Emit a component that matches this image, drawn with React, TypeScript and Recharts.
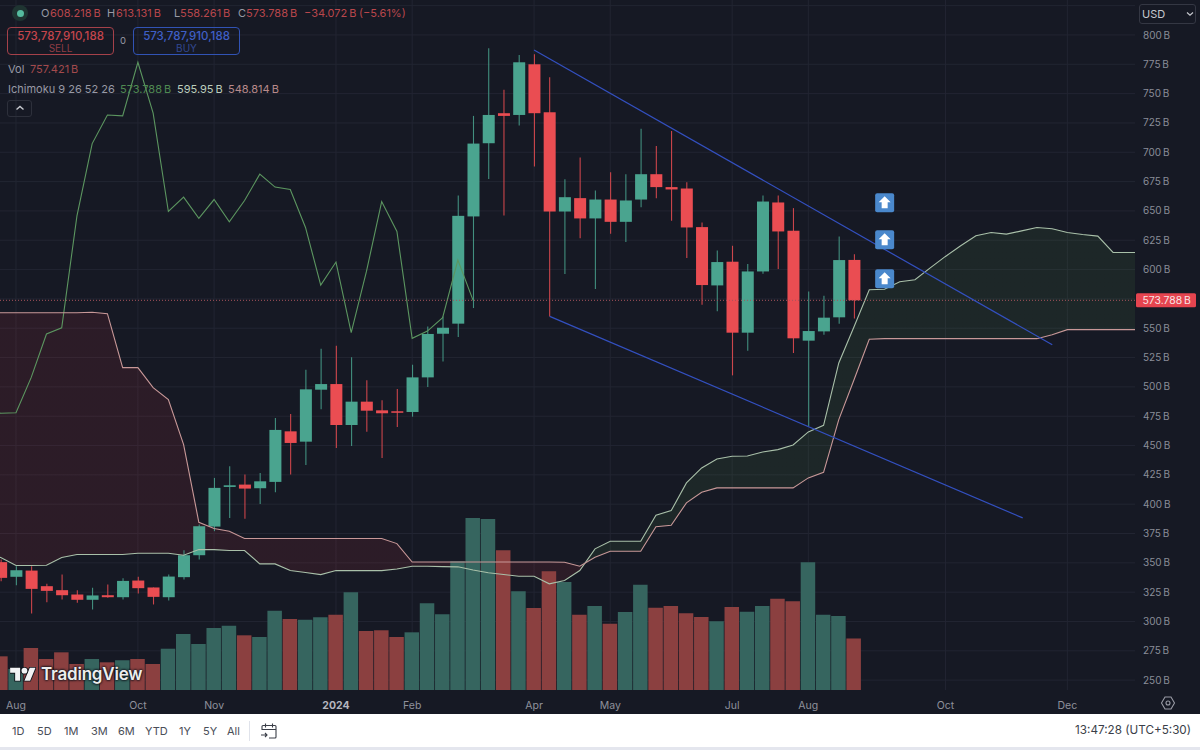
import {
  Area,
  Bar,
  CartesianGrid,
  Cell,
  ComposedChart,
  Line,
  ReferenceDot,
  ReferenceLine,
  XAxis,
  YAxis,
} from "recharts";

// weekly candles, values in billions of USD
const opens = [
  350.6, 338.1, 343.4, 330.1, 326.7, 323.0, 318.5, 322.4, 320.7, 334.9, 329.0, 320.7, 337.8, 356.5, 380.9, 414.7,
  416.7, 413.6, 419.0, 462.1, 453.3, 497.6, 502.4, 467.5, 487.4, 480.0, 479.2, 478.6, 508.1, 545.3, 553.9, 645.3,
  707.7, 733.3, 731.8, 775.0, 734.1, 649.5, 660.9, 643.6, 659.7, 640.7, 659.7, 681.3, 670.3, 669.1, 636.2, 586.5,
  606.7, 546.2, 598.4, 657.2, 633.1, 539.4, 547.3, 559.3, 608.218,
];
const highs = [
  352.8, 347.1, 347.1, 332.1, 340.1, 326.7, 328.7, 331.5, 336.9, 338.1, 329.0, 340.1, 360.8, 382.6, 422.4, 432.3,
  425.2, 426.6, 473.5, 476.9, 514.6, 532.5, 535.1, 525.2, 505.6, 488.5, 498.2, 518.9, 551.5, 560.0, 663.2, 731.0,
  788.6, 753.2, 783.0, 783.5, 763.9, 677.1, 695.5, 667.4, 683.0, 681.3, 720.0, 705.4, 718.2, 674.5, 640.2, 616.3,
  620.3, 604.7, 663.2, 663.2, 652.4, 581.4, 577.7, 628.2, 613.131,
];
const lows = [
  334.4, 331.0, 306.8, 316.5, 318.7, 315.9, 310.2, 320.2, 318.7, 323.9, 314.5, 317.9, 335.8, 352.8, 377.0, 388.3,
  387.5, 400.2, 410.2, 425.2, 433.5, 480.9, 447.9, 449.6, 461.8, 439.4, 465.8, 474.6, 499.9, 521.7, 542.5, 567.2,
  677.3, 646.1, 722.8, 687.8, 560.1, 596.2, 626.8, 583.4, 630.5, 623.4, 653.2, 660.9, 641.6, 609.8, 570.0, 564.4,
  509.8, 530.9, 596.4, 600.4, 528.9, 466.4, 544.5, 553.9, 558.261,
];
const closes = [
  337.2, 343.7, 327.8, 326.1, 322.4, 318.5, 322.2, 320.7, 334.6, 328.4, 321.0, 338.3, 356.5, 381.2, 413.9, 416.1,
  413.3, 419.5, 463.3, 452.2, 497.9, 502.4, 467.5, 487.4, 479.7, 477.5, 478.0, 508.1, 545.1, 550.4, 645.8, 707.4,
  731.8, 731.0, 776.7, 733.3, 649.5, 661.7, 643.6, 659.7, 640.7, 658.9, 681.3, 670.3, 668.3, 635.9, 586.8, 606.4,
  546.2, 598.4, 658.0, 632.5, 541.4, 547.6, 559.0, 608.1, 573.788,
];
const volumes = [
  495, 309, 617, 456, 554, 382, 456, 407, 437, 456, 382, 607, 823, 676, 911, 945, 804, 779, 1166, 1044, 1033, 1069,
  1107, 1436, 867, 878, 779, 848, 1274, 1113, 1892, 2528, 2514, 2054, 1451, 1205, 1745, 1588, 1107, 1235, 975, 1147,
  1548, 1210, 1235, 1127, 1073, 1010, 1220, 1151, 1235, 1342, 1304, 1877, 1107, 1088, 757.421,
];
// both cloud spans start one bar left of the first candle and run past the pane edge
const spanA = [
  357.1, 354.5, 347.7, 347.7, 348.0, 354.5, 357.1, 357.1, 357.1, 357.1, 358.2, 358.2, 358.2, 356.5, 361.3, 361.3,
  360.5, 360.5, 349.1, 349.1, 343.4, 341.7, 340.0, 343.4, 343.4, 343.4, 343.4, 344.7, 347.1, 347.1, 346.8, 346.6,
  343.9, 341.5, 340.0, 338.6, 338.6, 332.1, 334.9, 343.4, 361.9, 368.4, 368.4, 368.4, 390.5, 394.5, 418.1, 430.9,
  438.6, 440.8, 441.1, 444.5, 446.5, 450.5, 461.6, 467.2, 520.4, 551.3, 582.8, 583.2, 589.6, 591.3, 601.5, 611.2,
  620.3, 628.8, 631.6, 630.2, 633.0, 635.9, 634.8, 631.6, 629.9, 628.5, 614.6, 614.6, 614.6,
];
const spanB = [
  563.2, 563.2, 563.2, 563.2, 563.2, 563.2, 563.2, 563.6, 562.4, 516.4, 516.4, 499.3, 489.1, 450.8, 384.6, 379.2,
  376.9, 370.7, 370.7, 370.7, 370.7, 370.7, 370.7, 370.7, 370.7, 370.7, 370.7, 366.4, 350.7, 350.7, 350.7, 350.7,
  350.7, 350.7, 350.7, 350.7, 350.7, 350.7, 350.5, 347.1, 354.8, 359.9, 359.9, 359.9, 380.7, 382.0, 401.1, 410.1,
  413.9, 413.9, 413.9, 413.9, 413.9, 413.9, 422.4, 427.2, 472.1, 506.1, 540.6, 541.1, 541.1, 541.1, 541.1, 541.1,
  541.1, 541.1, 541.1, 541.1, 541.1, 541.1, 544.5, 548.8, 548.8, 548.8, 548.8, 548.8, 548.8,
];
const lagOffset = 25;
const timeTicks = [1, 9, 14, 22, 27, 35, 40, 48, 53, 62, 70];
const timeLabels = ["Aug", "Oct", "Nov", "2024", "Feb", "Apr", "May", "Jul", "Aug", "Oct", "Dec"];
// the 575 label is hidden by the last-price tag, its grid line stays
const priceTicks = [250, 275, 300, 325, 350, 375, 400, 425, 450, 475, 500, 525, 550, 600, 625, 650, 675, 700, 725, 750, 775, 800];
const gridPrices = [...priceTicks, 575, 825];
const lastPrice = 573.788;
const upperTrend = [
  { x: 35.0, y: 787.2 },
  { x: 69.01, y: 535.9 },
];
const lowerTrend = [
  { x: 36.03, y: 560.1 },
  { x: 67.07, y: 388.3 },
];
const buySignals = [
  { x: 58.01, y: 656.9 },
  { x: 58.01, y: 625.4 },
  { x: 58.01, y: 592.2 },
];
const rangeButtons = ["1D", "5D", "1M", "3M", "6M", "YTD", "1Y", "5Y", "All"];
const rangeLefts = [12, 37, 64, 91, 118, 145, 179, 203, 227];

const rows = spanA.map((a, i) => {
  const k = i - 1;
  const candle = k >= 0 && k < closes.length;
  const lagged = closes[k + lagOffset];
  return {
    k,
    spanA: a,
    spanB: spanB[i],
    lagging: lagged === undefined ? null : lagged,
    open: candle ? opens[k] : null,
    high: candle ? highs[k] : null,
    low: candle ? lows[k] : null,
    close: candle ? closes[k] : null,
    volume: candle ? volumes[k] : null,
  };
});

const UP = "#4aa48f";
const DOWN = "#ea4d52";
const FONT = "Inter, sans-serif";
const X_DOMAIN = [-0.05, 74.44];

function Candle(props: any) {
  const { x, y, width, height, payload } = props;
  if (payload.open == null || !height) return null;
  const { open, close, high, low } = payload;
  const perUnit = height / (high - low);
  const top = y + (high - Math.max(open, close)) * perUnit;
  const bottom = y + (high - Math.min(open, close)) * perUnit;
  const color = close >= open ? UP : DOWN;
  return (
    <g>
      <line x1={x + width / 2} x2={x + width / 2} y1={y} y2={y + height} stroke={color} strokeWidth={1.1} opacity={0.85} />
      <rect x={x} y={top} width={width} height={Math.max(bottom - top, 1.5)} fill={color} />
    </g>
  );
}

function TimeTick({ x, y, payload }: any) {
  const label = timeLabels[timeTicks.indexOf(payload.value)];
  const bold = label === "2024";
  return (
    <text x={x} y={y} dy={10.5} textAnchor="middle" fontFamily={FONT} fontSize={10.5} fontWeight={bold ? 700 : 400} fill={bold ? "#b4b6bf" : "#8f919c"}>
      {label}
    </text>
  );
}

function SignalArrow({ cx, cy }: any) {
  return (
    <g transform={`translate(${cx},${cy})`}>
      <rect x={-9.5} y={-9.5} width={19} height={19} rx={2} fill="#4a88cc" />
      <path d="M0 -6.5 L6 -0.5 L3 -0.5 L3 5.5 L-3 5.5 L-3 -0.5 L-6 -0.5 Z" fill="#fff" />
    </g>
  );
}

function PriceTag({ viewBox }: any) {
  return (
    <g>
      <rect x={1136} y={viewBox.y - 7} width={60} height={14} rx={1.5} fill="#e5444f" />
      <text x={1142.5} y={viewBox.y + 3.8} fontFamily={FONT} fontSize={10.4} fill="#f8e4e6">
        {"573.788\u2009B"}
      </text>
    </g>
  );
}

function Txt({ x, y, color, size = 11, children, weight }: any) {
  return (
    <div style={{ position: "absolute", left: x, top: y, color, fontSize: size, fontWeight: weight, lineHeight: "14px", whiteSpace: "nowrap" }}>
      {children}
    </div>
  );
}

function Legend() {
  const red = "#b9474c";
  const grey = "#989aa5";
  return (
    <>
      <div style={{ position: "absolute", left: 12, top: 5, width: 16, height: 16, borderRadius: 8, background: "#1f3532" }} />
      <div style={{ position: "absolute", left: 16.5, top: 9.5, width: 7, height: 7, borderRadius: 4, background: "#55bc9f" }} />
      <Txt x={41} y={6} color={grey}>O</Txt>
      <Txt x={50} y={6} color={red}>{"608.218\u2009B"}</Txt>
      <Txt x={107} y={6} color={grey}>H</Txt>
      <Txt x={116} y={6} color={red}>{"613.131\u2009B"}</Txt>
      <Txt x={174} y={6} color={grey}>L</Txt>
      <Txt x={180} y={6} color={red}>{"558.261\u2009B"}</Txt>
      <Txt x={238} y={6} color={grey}>C</Txt>
      <Txt x={246} y={6} color={red}>{"573.788\u2009B"}</Txt>
      <Txt x={304} y={6} color={red}>{"\u221234.072\u2009B"}</Txt>
      <Txt x={359} y={6} color={red}>(−5.61%)</Txt>

      <div style={{ position: "absolute", left: 7, top: 27, width: 107, height: 28, boxSizing: "border-box", border: "1px solid #a5414a", borderRadius: 4, textAlign: "center" }}>
        <div style={{ color: "#c5454c", fontSize: 11.5, lineHeight: "13px", marginTop: 2, fontWeight: 500 }}>573,787,910,188</div>
        <div style={{ color: "#8f3d44", fontSize: 10, lineHeight: "10px" }}>SELL</div>
      </div>
      <Txt x={120} y={34} color="#989aa5" size={9.5}>0</Txt>
      <div style={{ position: "absolute", left: 133, top: 27, width: 107, height: 28, boxSizing: "border-box", border: "1px solid #3153b5", borderRadius: 4, textAlign: "center" }}>
        <div style={{ color: "#3f5fc6", fontSize: 11.5, lineHeight: "13px", marginTop: 2, fontWeight: 500 }}>573,787,910,188</div>
        <div style={{ color: "#32488f", fontSize: 10, lineHeight: "10px" }}>BUY</div>
      </div>

      <Txt x={8} y={62} color={grey}>Vol</Txt>
      <Txt x={30} y={62} color="#a34a4d">{"757.421\u2009B"}</Txt>
      <Txt x={8} y={82} color={grey}>Ichimoku 9 26 52 26</Txt>
      <Txt x={120} y={82} color="#4f8a52">{"573.788\u2009B"}</Txt>
      <Txt x={177} y={82} color="#bccdbc">{"595.95\u2009B"}</Txt>
      <Txt x={228} y={82} color="#b88a8a">{"548.814\u2009B"}</Txt>
      <div style={{ position: "absolute", left: 7, top: 100, width: 25, height: 17, boxSizing: "border-box", border: "1px solid #2d303b", borderRadius: 3 }} />
      <svg style={{ position: "absolute", left: 15, top: 104 }} width={10} height={8}>
        <path d="M1.5 5.5 L5 2.5 L8.5 5.5" fill="none" stroke="#c8cad0" strokeWidth={1.4} />
      </svg>

      <div style={{ position: "absolute", left: 1139, top: 4, width: 57, height: 20, boxSizing: "border-box", border: "1px solid #343743", borderRadius: 3, background: "#161924" }} />
      <Txt x={1142} y={7} color="#c6c8ce">USD</Txt>
      <svg style={{ position: "absolute", left: 1186, top: 11 }} width={8} height={6}>
        <path d="M1 1.5 L4 4.2 L7 1.5" fill="none" stroke="#c6c8ce" strokeWidth={1.2} />
      </svg>
    </>
  );
}

function Watermark() {
  return (
    <>
      <svg style={{ position: "absolute", left: 10, top: 665 }} width={26} height={20} viewBox="0 0 36 28">
        <g stroke="#11141c" strokeWidth={2.5} paintOrder="stroke" fill="#f2f3f5">
          <path d="M14 22H7V11H0V4h14v18z" />
          <path d="M28 22h-8l7.5-18h8L28 22z" />
          <circle cx={20} cy={8} r={4} />
        </g>
      </svg>
      <div style={{ position: "absolute", left: 41, top: 663, color: "#eceded", fontSize: 17, fontWeight: 600, lineHeight: "22px", letterSpacing: -0.2, textShadow: "0 0 2px #11141c, 0 0 2px #11141c, 0 0 3px #11141c" }}>
        TradingView
      </div>
    </>
  );
}

function Toolbar() {
  return (
    <>
      <div style={{ position: "absolute", left: 0, top: 714, width: 1200, height: 33, background: "#fff" }} />
      <div style={{ position: "absolute", left: 0, top: 747, width: 1200, height: 3, background: "#e4e6ee" }} />
      {rangeButtons.map((b, i) => (
        <Txt key={b} x={rangeLefts[i]} y={724} color="#4a4e58">{b}</Txt>
      ))}
      <div style={{ position: "absolute", left: 249, top: 721, width: 1, height: 20, background: "#e0e3eb" }} />
      <svg style={{ position: "absolute", left: 260, top: 722 }} width={18} height={18} fill="none" stroke="#3a3e48" strokeWidth={1.1}>
        <path d="M2 8V4.5a1 1 0 0 1 1-1h12a1 1 0 0 1 1 1V15a1 1 0 0 1-1 1H9" />
        <path d="M2 7.5h14M5.5 1.5v4M12.5 1.5v4M1 13h6M5 11l2 2-2 2" />
      </svg>
      <div style={{ position: "absolute", right: 9, top: 723, color: "#3a3e48", fontSize: 11.7, lineHeight: "14px" }}>13:47:28 (UTC+5:30)</div>
    </>
  );
}

export default function App() {
  return (
    <div style={{ position: "relative", width: 1200, height: 750, background: "#161924", fontFamily: FONT, overflow: "hidden" }}>
      <style>{"html,body{margin:0;padding:0}"}</style>
      <ComposedChart width={1200} height={750} data={rows} margin={{ top: 0, right: 0, bottom: 0, left: 0 }}>
        <defs>
          <linearGradient id="cloudFill" x1="0" y1="0" x2="1" y2="0">
            <stop offset="51.76%" stopColor="rgb(242,54,69)" stopOpacity={0.1} />
            <stop offset="51.76%" stopColor="rgb(100,180,80)" stopOpacity={0.09} />
          </linearGradient>
        </defs>
        <CartesianGrid
          xAxisId="time"
          yAxisId="price"
          stroke="#222532"
          strokeWidth={1}
          verticalValues={timeTicks}
          horizontalValues={gridPrices}
        />
        <XAxis
          xAxisId="time"
          dataKey="k"
          type="number"
          domain={X_DOMAIN}
          allowDataOverflow
          ticks={timeTicks}
          interval={0}
          tick={<TimeTick />}
          axisLine={false}
          tickLine={false}
          height={60}
        />
        <XAxis xAxisId="vol" dataKey="k" type="number" domain={X_DOMAIN} allowDataOverflow hide />
        <YAxis
          yAxisId="price"
          orientation="right"
          type="number"
          domain={[241.6, 829.8]}
          allowDataOverflow
          ticks={priceTicks}
          interval={0}
          width={65}
          tickFormatter={(v) => `${v}\u2009B`}
          tick={{ fill: "#8a8d98", fontSize: 10, fontFamily: FONT }}
          tickMargin={2}
          axisLine={false}
          tickLine={false}
        />
        <YAxis yAxisId="volume" type="number" domain={[0, 10143]} hide />

        <Bar xAxisId="vol" yAxisId="volume" dataKey="volume" barSize={14.5} isAnimationActive={false}>
          {rows.map((r) => (
            <Cell key={r.k} fill={r.close != null && r.close < (r.open as number) ? "#8b4040" : "#36655f"} />
          ))}
        </Bar>
        <Area
          xAxisId="time"
          yAxisId="price"
          dataKey={(d: any) => [d.spanB, d.spanA]}
          stroke="none"
          fill="url(#cloudFill)"
          fillOpacity={1}
          dot={false}
          activeDot={false}
          isAnimationActive={false}
        />
        <Line xAxisId="time" yAxisId="price" dataKey="lagging" stroke="#5c9660" strokeWidth={1.1} dot={false} activeDot={false} isAnimationActive={false} />
        <Line xAxisId="time" yAxisId="price" dataKey="spanA" stroke="#a9c0a9" strokeWidth={1.1} dot={false} activeDot={false} isAnimationActive={false} />
        <Line xAxisId="time" yAxisId="price" dataKey="spanB" stroke="#c89898" strokeWidth={1.1} dot={false} activeDot={false} isAnimationActive={false} />
        <ReferenceLine xAxisId="time" yAxisId="price" y={lastPrice} stroke="#a9545c" strokeDasharray="1 2" label={PriceTag} />
        <Bar
          xAxisId="time"
          yAxisId="price"
          dataKey={(d: any) => (d.low == null ? null : [d.low, d.high])}
          barSize={12}
          shape={<Candle />}
          isAnimationActive={false}
        />
        <ReferenceLine xAxisId="time" yAxisId="price" segment={upperTrend} stroke="#3350c0" strokeWidth={1.2} />
        <ReferenceLine xAxisId="time" yAxisId="price" segment={lowerTrend} stroke="#3350c0" strokeWidth={1.2} />
        {buySignals.map((s) => (
          <ReferenceDot key={s.y} xAxisId="time" yAxisId="price" x={s.x} y={s.y} r={9} shape={<SignalArrow />} />
        ))}
      </ComposedChart>
      <div style={{ position: "absolute", left: 0, top: 0, width: 1200, height: 750, pointerEvents: "none" }}>
        <Legend />
        <Watermark />
        <svg style={{ position: "absolute", left: 1160, top: 695 }} width={16} height={16} fill="none" stroke="#9a9ca6" strokeWidth={1.1}>
          <path d="M5 2h6l3.5 6-3.5 6H5L1.5 8z" />
          <circle cx={8} cy={8} r={2} />
        </svg>
        <Toolbar />
      </div>
    </div>
  );
}
